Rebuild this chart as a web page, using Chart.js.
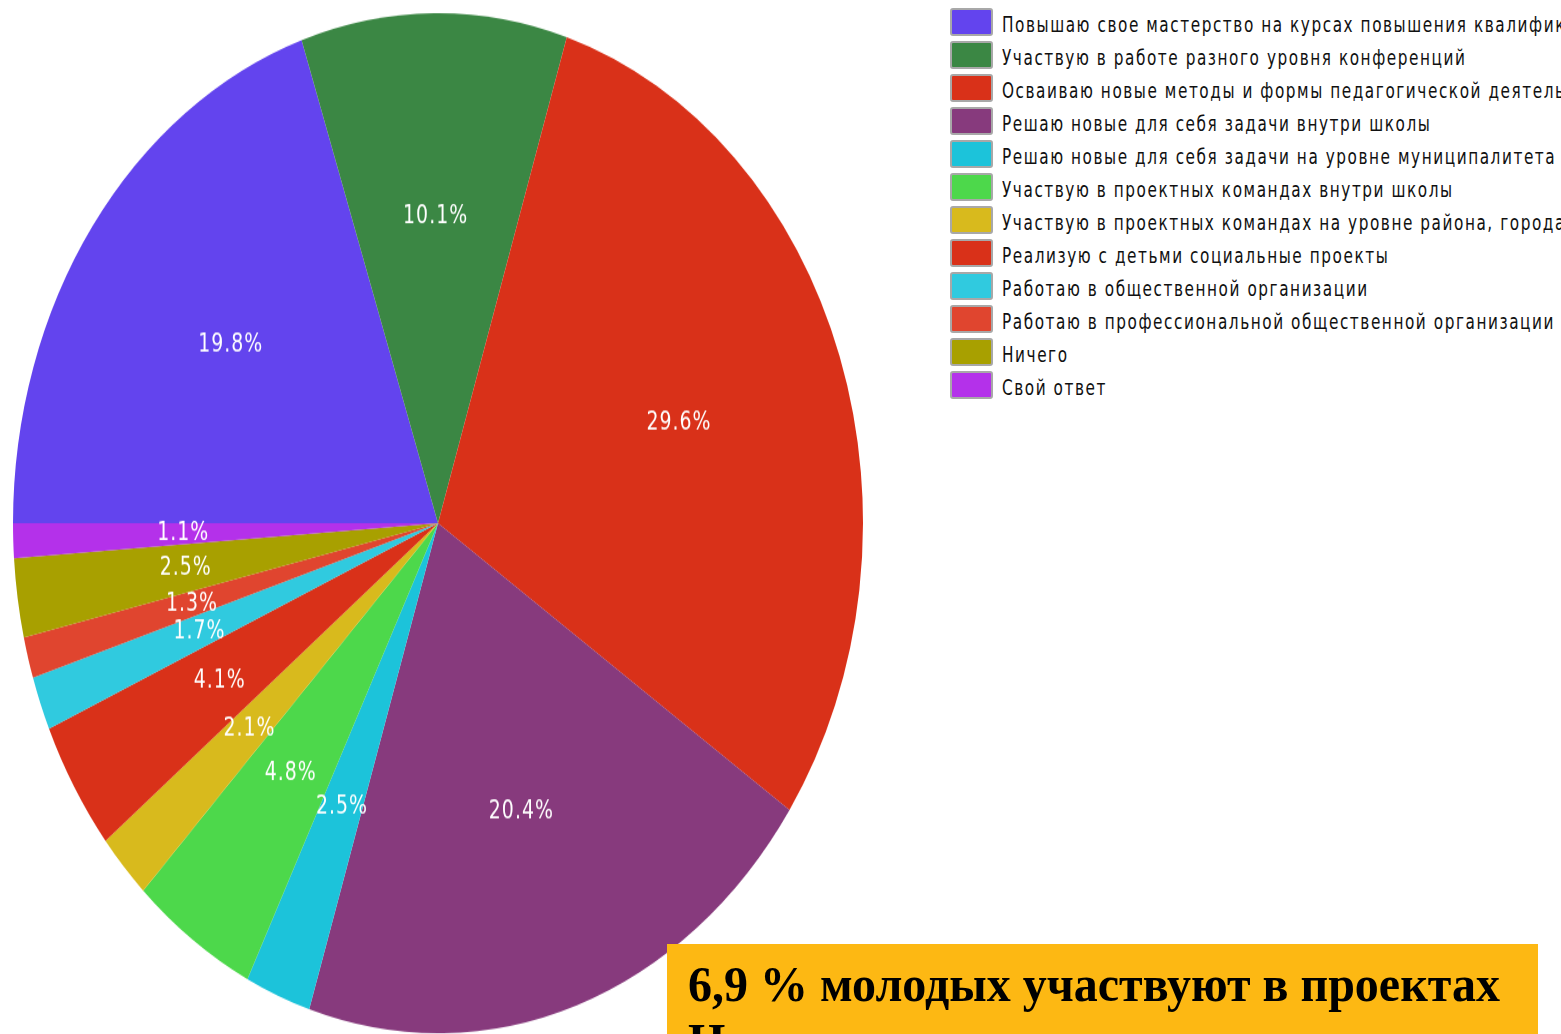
<!DOCTYPE html>
<html><head><meta charset="utf-8">
<script src="https://cdn.jsdelivr.net/npm/chart.js@4.4.1/dist/chart.umd.min.js"></script>
<style>
html,body{margin:0;padding:0;background:#fff;width:1561px;height:1034px;overflow:hidden;position:relative;}
#pieWrap{position:absolute;left:0;top:0;width:876px;height:872px;transform:scaleY(1.2);transform-origin:0 0;}
#legend{position:absolute;left:950px;top:8px;width:611px;overflow:hidden;}
.item{position:relative;height:33px;white-space:nowrap;}
.box{position:absolute;left:0;top:0;width:39px;height:24px;border:2px solid #a8a8a8;border-radius:3px;}
.txt{position:absolute;left:52px;top:5px;font-family:"DejaVu Sans Condensed","DejaVu Sans",sans-serif;font-size:17px;letter-spacing:1.55px;color:#111;transform:scaleY(1.2);transform-origin:0 0;}
#note{position:absolute;left:667px;top:944px;width:871px;height:120px;background:#FDB813;overflow:hidden;}
#note div{position:absolute;left:21px;top:11px;font-family:"Liberation Serif","Times New Roman",serif;font-weight:bold;font-size:48px;line-height:55px;color:#000;transform:scaleY(1.04);transform-origin:0 0;white-space:nowrap;}
</style></head>
<body>
<div id="pieWrap"><canvas id="pie" width="876" height="872"></canvas></div>
<div id="legend"></div>
<div id="note"><div>6,9 % молодых участвуют в проектах<br>На уровне школы и города</div></div>
<script>
const categories = [
  "Повышаю свое мастерство на курсах повышения квалификации",
  "Участвую в работе разного уровня конференций",
  "Осваиваю новые методы и формы педагогической деятельности",
  "Решаю новые для себя задачи внутри школы",
  "Решаю новые для себя задачи на уровне муниципалитета",
  "Участвую в проектных командах внутри школы",
  "Участвую в проектных командах на уровне района, города",
  "Реализую с детьми социальные проекты",
  "Работаю в общественной организации",
  "Работаю в профессиональной общественной организации",
  "Ничего",
  "Свой ответ"
];
const values = [19.8, 10.1, 29.6, 20.4, 2.5, 4.8, 2.1, 4.1, 1.7, 1.3, 2.5, 1.1];
const colors = ["#6344EE","#3B8744","#D93119","#873A7D","#1CC3DA","#4DD84B","#D8BA1D","#D93119","#30CADF","#E0452F","#A8A000","#B431EA"];

// legend
const lg = document.getElementById('legend');
categories.forEach((c,i)=>{
  const it = document.createElement('div'); it.className='item';
  const b = document.createElement('div'); b.className='box'; b.style.background=colors[i];
  const t = document.createElement('div'); t.className='txt'; t.textContent=c;
  it.appendChild(b); it.appendChild(t); lg.appendChild(it);
});

const labelPlugin = {
  id:'sliceLabels',
  afterDatasetsDraw(chart){
    const ctx = chart.ctx;
    const meta = chart.getDatasetMeta(0);
    ctx.save();
    ctx.fillStyle = '#fff';
    ctx.font = '21px "DejaVu Sans Condensed", "DejaVu Sans", sans-serif';
    ctx.textAlign = 'center';
    ctx.textBaseline = 'middle';
    ctx.letterSpacing = '1px';
    meta.data.forEach((arc,i)=>{
      const p = arc.getProps(['x','y','startAngle','endAngle','outerRadius'], true);
      const a = (p.startAngle + p.endAngle)/2;
      const r = p.outerRadius*0.6;
      const txt = values[i].toFixed(1) + '%';
      ctx.fillText(txt, p.x + Math.cos(a)*r, p.y + Math.sin(a)*r);
    });
    ctx.restore();
  }
};

new Chart(document.getElementById('pie'), {
  type:'pie',
  data:{ labels:categories, datasets:[{ data:values, backgroundColor:colors, borderWidth:0, radius:425 }] },
  options:{
    responsive:false, animation:false,
    rotation:-90,
    layout:{padding:0},
    plugins:{ legend:{display:false}, tooltip:{enabled:false} }
  },
  plugins:[labelPlugin]
});
</script>
</body></html>
